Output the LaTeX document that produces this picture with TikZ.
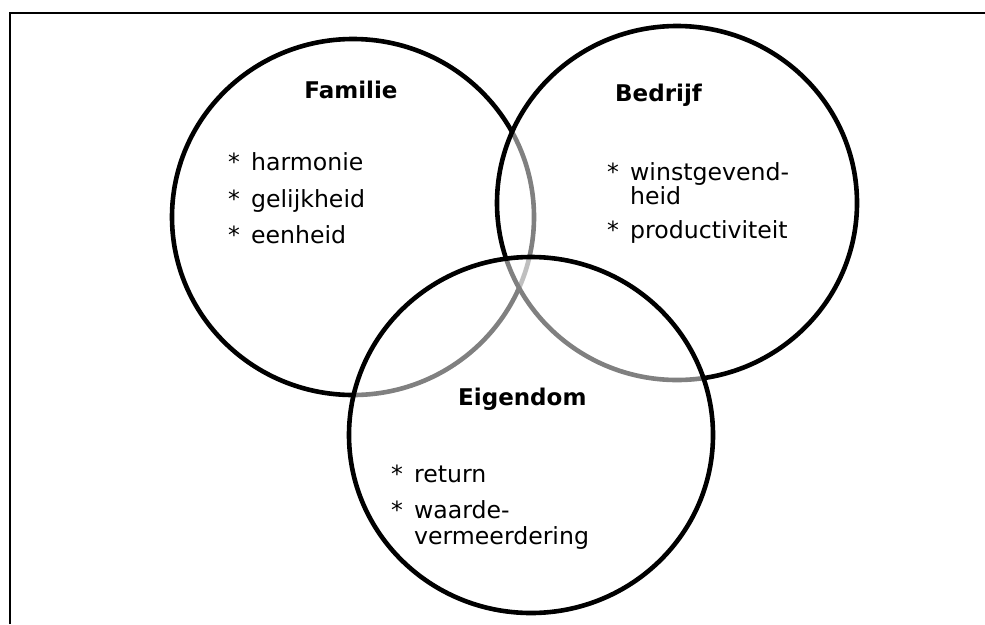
\documentclass[tikz,border=0pt]{standalone}
\usepackage{fontspec}
\setmainfont{DejaVu Sans}
\newcommand{\bul}{\makebox[23pt][l]{*}}
\begin{document}
\begin{tikzpicture}[x=1pt,y=-1pt,
  ring/.style={line width=4.6pt, draw=black},
  veil/.style={fill=white, fill opacity=0.5},
  title/.style={font=\fontsize{23}{24}\selectfont\bfseries, inner sep=0pt},
  item/.style={font=\fontsize{23.6}{24}\selectfont, inner sep=0pt, anchor=base west}]
\useasboundingbox (0,0) rectangle (985,624);
\draw[line width=2pt] (10,624) -- (10,12.5) -- (985,12.5);
% circles
\path[ring] (353,217) ellipse [x radius=181pt, y radius=178pt];
\path[ring, veil] (677,203) ellipse [x radius=180pt, y radius=177pt];
\path[ring, veil] (531,435) ellipse [x radius=182pt, y radius=178pt];
% texts
\node[title, anchor=base] (famT) at (351,98) {Familie};
\node[item] (f1) at (228,170) {\bul harmonie};
\node[item] (f2) at (228,207) {\bul gelijkheid};
\node[item] (f3) at (228,243) {\bul eenheid};
\node[title, anchor=base west] (bedT) at (615,101) {Bedrijf};
\node[item] (b1) at (607,180) {\bul winstgevend-};
\node[item] (b1b) at (630,204) {heid};
\node[item] (b2) at (607,238) {\bul productiviteit};
\node[title, anchor=base west] (eigT) at (458,405) {Eigendom};
\node[item] (e1) at (391,482) {\bul return};
\node[item] (e2) at (391,518) {\bul waarde-};
\node[item] (e2b) at (414,544) {vermeerdering};
\end{tikzpicture}
\end{document}
